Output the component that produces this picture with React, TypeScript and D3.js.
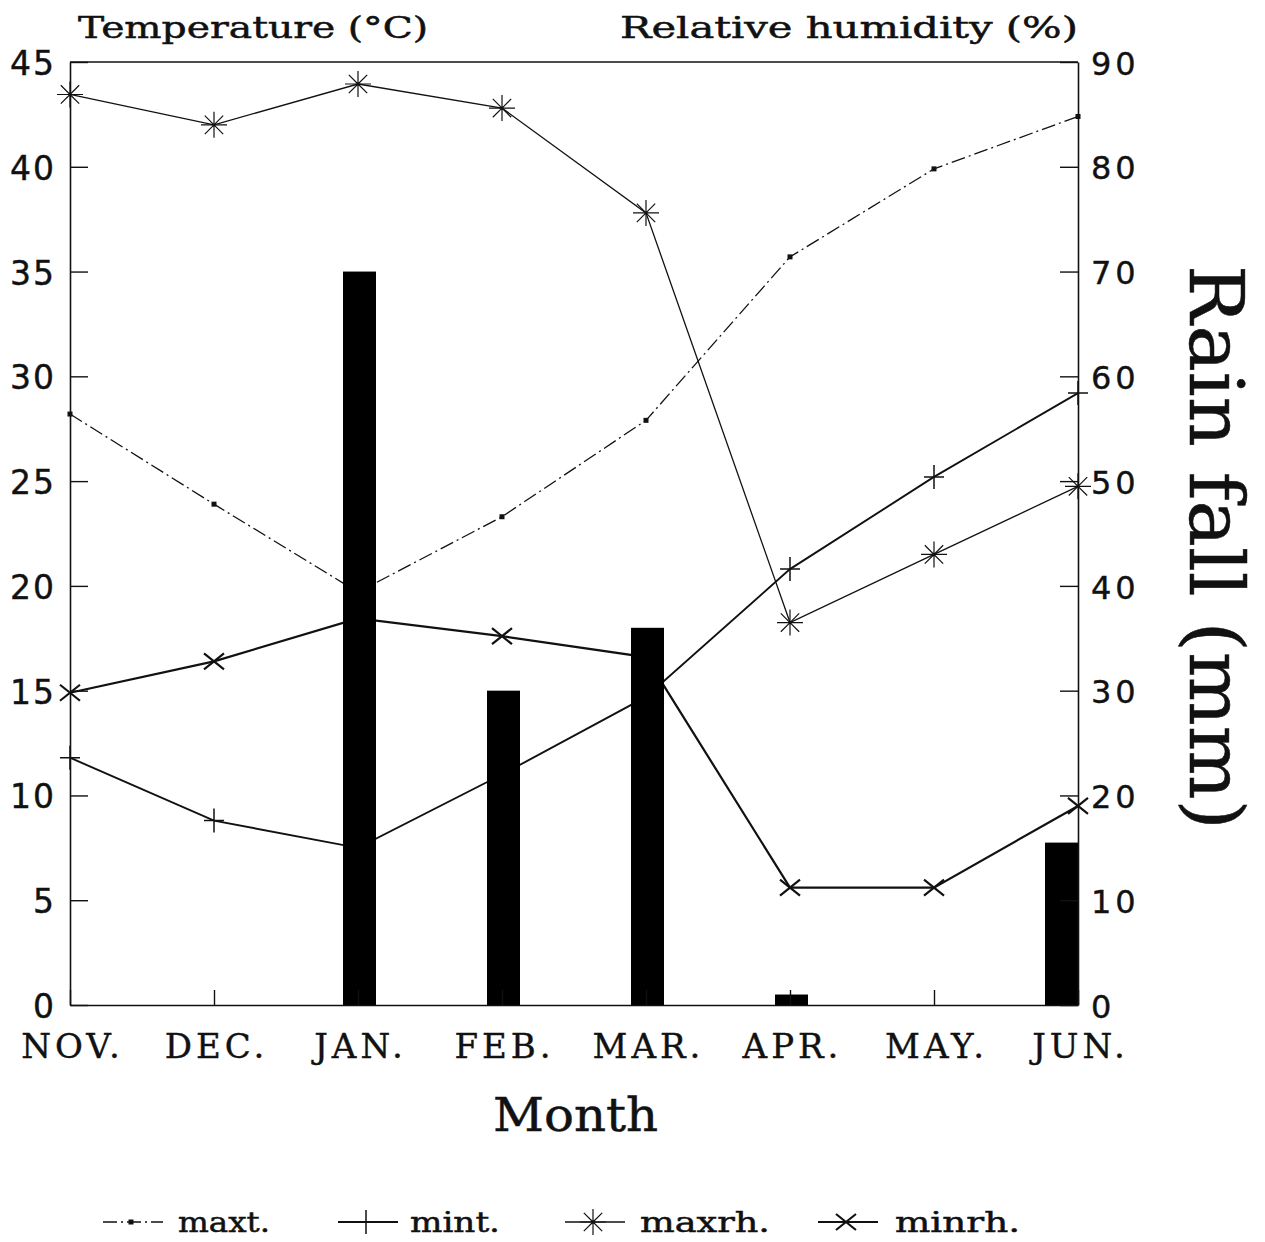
import React, { useRef, useEffect } from 'react';
import * as d3 from 'd3';

// values
const months = ['NOV.', 'DEC.', 'JAN.', 'FEB.', 'MAR.', 'APR.', 'MAY.', 'JUN.'];
const maxt = [28.2, 23.9, 19.7, 23.3, 27.9, 35.7, 39.9, 42.4];
const mint = [11.8, 8.8, 7.5, 11.0, 14.7, 20.8, 25.2, 29.2];
const maxrh = [86.9, 84.0, 87.9, 85.6, 75.6, 36.5, 43.0, 49.5];
const minrh = [29.8, 32.8, 36.9, 35.2, 33.2, 11.2, 11.2, 19.0];
const rain = [0, 0, 70, 30, 36, 1, 0, 15.5];
const tempTicks = [0, 5, 10, 15, 20, 25, 30, 35, 40, 45];
const rhTicks = [0, 10, 20, 30, 40, 50, 60, 70, 80, 90];

const W = 1265;
const H = 1242;
const SERIF = '"DejaVu Serif", serif';
const SANS = '"DejaVu Sans", sans-serif';

const markerPath = (type, r) => {
  const p = d3.path();
  if (type === 'plus') {
    p.moveTo(-r, 0); p.lineTo(r, 0);
    p.moveTo(0, -r * 1.2); p.lineTo(0, r * 1.2);
  } else if (type === 'star') {
    for (let i = 0; i < 8; i++) {
      const a = (i * Math.PI) / 4;
      p.moveTo(0, 0);
      p.lineTo(Math.cos(a) * r, Math.sin(a) * r);
    }
  } else if (type === 'x') {
    p.moveTo(-r, -r * 0.8); p.lineTo(r, r * 0.8);
    p.moveTo(-r, r * 0.8); p.lineTo(r, -r * 0.8);
  }
  return p.toString();
};

const Chart = () => {
  const svgRef = useRef(null);

  useEffect(() => {
    const svg = d3.select(svgRef.current);
    svg.selectAll('*').remove();

    const x = d3.scalePoint().domain(months).range([70, 1078]);
    const yT = d3.scaleLinear().domain([0, 45]).range([1005, 62]);
    const yR = d3.scaleLinear().domain([0, 90]).range([1005, 62]);

    const series = [
      { name: 'maxt.', values: maxt, y: yT, marker: 'dot', width: 1.3, dash: '14,4,2,4' },
      { name: 'mint.', values: mint, y: yT, marker: 'plus', width: 1.9, dash: null },
      { name: 'maxrh.', values: maxrh, y: yR, marker: 'star', width: 1.3, dash: null },
      { name: 'minrh.', values: minrh, y: yR, marker: 'x', width: 2.2, dash: null },
    ];

    const drawMarker = (g, type, cx, cy) => {
      if (type === 'dot') {
        g.append('rect').attr('x', cx - 2.5).attr('y', cy - 2.5)
          .attr('width', 5).attr('height', 5).attr('fill', '#111');
      } else {
        g.append('path')
          .attr('transform', `translate(${cx},${cy})`)
          .attr('d', markerPath(type, type === 'star' ? 13 : 10))
          .attr('stroke', '#111')
          .attr('stroke-width', type === 'x' ? 2.2 : type === 'star' ? 1.2 : 1.5)
          .attr('fill', 'none');
      }
    };

    // lines + markers
    series.forEach(s => {
      const line = d3.line().x((d, i) => x(months[i])).y(d => s.y(d));
      svg.append('path')
        .datum(s.values)
        .attr('d', line)
        .attr('fill', 'none')
        .attr('stroke', '#111')
        .attr('stroke-width', s.width)
        .attr('stroke-dasharray', s.dash);
      const g = svg.append('g');
      s.values.forEach((v, i) => drawMarker(g, s.marker, x(months[i]), s.y(v)));
    });

    // rainfall bars sit on top of the lines
    const bw = 33;
    const rainData = rain.map((v, i) => ({ month: months[i], v })).filter(d => d.v > 0);
    svg.append('g')
      .selectAll('rect')
      .data(rainData)
      .enter()
      .append('rect')
      .attr('x', d => Math.max(70, Math.min(x(d.month) - bw / 2 + 1.5, 1078 - bw)))
      .attr('y', d => yR(d.v))
      .attr('width', bw)
      .attr('height', d => yR(0) - yR(d.v))
      .attr('fill', '#000');

    // frame
    svg.append('line').attr('x1', 70).attr('x2', 1078).attr('y1', 62).attr('y2', 62)
      .attr('stroke', '#111').attr('stroke-width', 1.5);

    const styleAxis = (g, size, family, spacing) => {
      g.select('.domain').attr('stroke', '#111').attr('stroke-width', 1.6);
      g.selectAll('.tick line').attr('stroke', '#111').attr('stroke-width', 1.4);
      g.selectAll('text')
        .attr('fill', '#111')
        .attr('stroke', '#111')
        .attr('stroke-width', 0.4)
        .attr('font-size', size)
        .attr('font-family', family)
        .attr('letter-spacing', spacing);
    };

    const left = svg.append('g').attr('transform', 'translate(70,0)')
      .call(d3.axisLeft(yT).tickValues(tempTicks).tickSize(-18).tickSizeOuter(0).tickPadding(14));
    styleAxis(left, 33, SANS, 2);
    left.selectAll('text').attr('dy', '0.38em');

    const right = svg.append('g').attr('transform', 'translate(1078,0)')
      .call(d3.axisRight(yR).tickValues(rhTicks).tickSize(-18).tickSizeOuter(0).tickPadding(13));
    styleAxis(right, 32, SANS, 4);
    right.selectAll('text').attr('dy', '0.38em');

    const bottom = svg.append('g').attr('transform', 'translate(0,1005)')
      .call(d3.axisBottom(x).tickSize(-15).tickSizeOuter(0).tickPadding(29));
    styleAxis(bottom, 34, SERIF, 4);
    bottom.selectAll('text').attr('dx', 2);

    // titles
    const label = (txt, tx, ty, size, len, rotate = 0) =>
      svg.append('text')
        .attr('transform', `translate(${tx},${ty}) rotate(${rotate})`)
        .attr('font-family', SERIF)
        .attr('font-size', size)
        .attr('fill', '#111')
        .attr('stroke', '#111')
        .attr('stroke-width', 0.5)
        .attr('textLength', len)
        .attr('lengthAdjust', 'spacingAndGlyphs')
        .text(txt);

    label('Temperature (°C)', 78, 38, 30, 350);
    label('Relative humidity (%)', 620, 38, 30, 458);
    label('Month', 493, 1131, 46, 165);
    label('Rain fall (mm)', 1190, 265, 74, 565, 90);

    // legend
    const legendX = [103, 338, 565, 818];
    const legendText = [178, 410, 640, 895];
    const legendW = [92, 90, 130, 125];
    const ly = 1222;
    series.forEach((s, i) => {
      const g = svg.append('g');
      g.append('line')
        .attr('x1', legendX[i]).attr('x2', legendX[i] + 60)
        .attr('y1', ly).attr('y2', ly)
        .attr('stroke', '#111')
        .attr('stroke-width', s.width)
        .attr('stroke-dasharray', s.dash);
      drawMarker(g, s.marker, legendX[i] + 28, ly);
      label(s.name, legendText[i], ly + 10, 28, legendW[i]);
    });
  }, []);

  return (
    <svg
      ref={svgRef}
      width={W}
      height={H}
      style={{ position: 'absolute', left: 0, top: 0, background: '#fff' }}
    />
  );
};

export default function App() {
  return <Chart />;
}
